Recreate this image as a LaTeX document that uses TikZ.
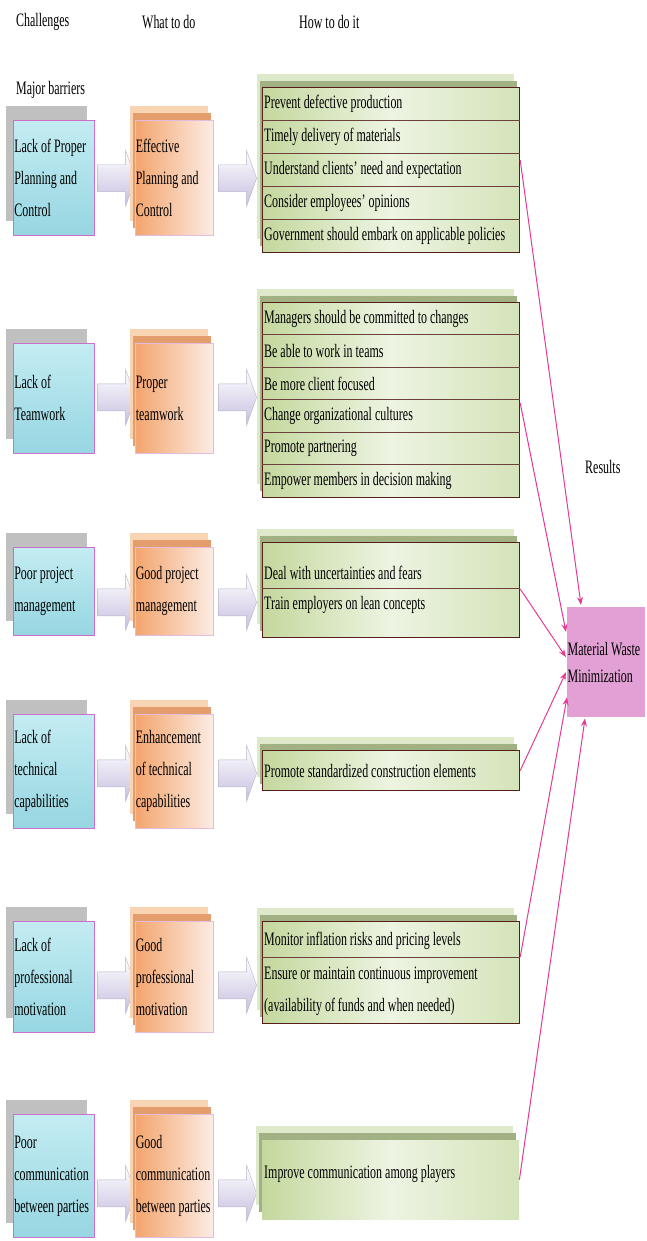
\documentclass[tikz,border=0pt]{standalone}
\usepackage{fontspec}
\setmainfont{Liberation Serif}[FakeStretch=0.63]
\usetikzlibrary{calc,shadows,arrows.meta}

\definecolor{shadowgray}{RGB}{192,192,192}
\definecolor{aqualite}{RGB}{196,236,242}
\definecolor{aquadark}{RGB}{150,214,226}
\definecolor{barrierline}{RGB}{205,110,205}
\definecolor{orangedark}{RGB}{243,165,110}
\definecolor{orangelite}{RGB}{252,236,228}
\definecolor{peach}{RGB}{249,212,178}
\definecolor{orangeband}{RGB}{228,158,110}
\definecolor{todoline}{RGB}{228,188,222}
\definecolor{greenlite}{RGB}{221,233,200}
\definecolor{greenband}{RGB}{162,177,132}
\definecolor{greendark}{RGB}{196,216,158}
\definecolor{greenpale}{RGB}{237,244,226}
\definecolor{howline}{RGB}{85,30,25}
\definecolor{lavender}{RGB}{198,190,224}
\definecolor{arrowline}{RGB}{185,180,200}
\definecolor{resultpink}{RGB}{226,160,212}
\definecolor{linkpink}{RGB}{228,60,150}

\begin{document}
\begin{tikzpicture}[x=1pt,y=-1pt,
  font=\fontsize{19}{32}\selectfont,
  heading/.style={anchor=west,inner sep=0pt},
  barrier/.style={anchor=north west,minimum width=81pt,text width=79pt,
    inner xsep=1pt,align=flush left,top color=aqualite,bottom color=aquadark,
    draw=barrierline,line width=0.6pt,
    general shadow={fill=shadowgray,shadow xshift=-7pt,shadow yshift=14pt}},
  todo/.style={anchor=north west,minimum width=78pt,text width=77pt,
    inner xsep=0.5pt,align=flush left,left color=orangedark,right color=orangelite,
    draw=todoline,line width=0.6pt,
    general shadow={fill=peach,shadow xshift=-5pt,shadow yshift=14pt},
    general shadow={fill=orangeband,shadow xshift=-2pt,shadow yshift=7pt}},
  howplain/.style={anchor=north west,minimum width=257pt,
    left color=greendark,right color=greendark!60!greenpale,middle color=greenpale,
    general shadow={fill=greenlite,shadow xshift=-6pt,shadow yshift=14pt},
    general shadow={fill=greenband,shadow xshift=-3pt,shadow yshift=7pt}},
  howbox/.style={howplain,draw=howline,line width=1.2pt},
  rowline/.style={draw=howline!85,line width=0.8pt},
  item/.style={anchor=west,inner sep=0pt,align=flush left},
  result/.style={anchor=north west,minimum width=78pt,minimum height=110pt,
    text width=77pt,inner xsep=0.5pt,align=flush left,fill=resultpink,
    font=\fontsize{19}{27}\selectfont},
  link/.style={draw=linkpink,line width=1pt,-{Stealth[length=8pt,width=6pt]}},
  barrow/.pic={\shade[top color=white,bottom color=lavender,draw=arrowline,line width=0.4pt]
    (0,-13.5) -- (28,-13.5) -- (28,-28) -- (38,0) -- (28,28) -- (28,13.5) -- (0,13.5) -- cycle;}]

  \fill[white] (0,0) rectangle (646,1241);
  \useasboundingbox (0,0) rectangle (646,1241);

  % column headings
  \node[heading] (hchal) at (16,22) {Challenges};
  \node[heading] (hwhat) at (142,22) {What to do};
  \node[heading] (hhow) at (299,22) {How to do it};
  \node[heading] (hbar) at (16,90) {Major barriers};
  \node[heading] (hres) at (585,467) {Results};

  % planning and control
  \node[barrier,minimum height=115pt] (c1) at (13,120) {Lack of Proper\\Planning and\\Control};
  \pic at ($(c1.east)+(3,0.5)$) {barrow};
  \node[todo,minimum height=115pt] (w1) at (135,120) {Effective\\Planning and\\Control};
  \pic at ($(w1.east)+(5,0.5)$) {barrow};
  \node[howbox,minimum height=165pt] (h1) at (262,87) {};
  \foreach \i in {1,...,4}
    \draw[rowline] ($(h1.north west)+(0,33*\i)$) -- ($(h1.north east)+(0,33*\i)$);
  \foreach \txt [count=\i] in {Prevent defective production,Timely delivery of materials,
      Understand clients' need and expectation,Consider employees' opinions,
      Government should embark on applicable policies}
    \node[item] (h1-\i) at ($(h1.north west)+(2,33*\i-16.5)$) {\txt};

  % teamwork
  \node[barrier,minimum height=110pt] (c2) at (13,343) {Lack of\\Teamwork};
  \pic at ($(c2.east)+(3,-1)$) {barrow};
  \node[todo,minimum height=110pt] (w2) at (135,343) {Proper\\teamwork};
  \pic at ($(w2.east)+(5,-1)$) {barrow};
  \node[howbox,minimum height=195pt] (h2) at (262,302) {};
  \foreach \i in {1,...,5}
    \draw[rowline] ($(h2.north west)+(0,32.5*\i)$) -- ($(h2.north east)+(0,32.5*\i)$);
  \foreach \txt [count=\i] in {Managers should be committed to changes,Be able to work in teams,
      Be more client focused,Change organizational cultures,Promote partnering,
      Empower members in decision making}
    \node[item] (h2-\i) at ($(h2.north west)+(2,32.5*\i-16)$) {\txt};

  % project management
  \node[barrier,minimum height=88pt] (c3) at (13,547) {Poor project\\management};
  \pic at ($(c3.east)+(3,11)$) {barrow};
  \node[todo,minimum height=88pt] (w3) at (135,547) {Good project\\management};
  \pic at ($(w3.east)+(5,11)$) {barrow};
  \node[howbox,minimum height=95pt] (h3) at (262,542) {};
  \draw[rowline] ($(h3.north west)+(0,46)$) -- ($(h3.north east)+(0,46)$);
  \node[item] (h3-1) at ($(h3.north west)+(2,31)$) {Deal with uncertainties and fears};
  \node[item] (h3-2) at ($(h3.north west)+(2,63)$) {Train employers on lean concepts};

  % technical capabilities
  \node[barrier,minimum height=114pt] (c4) at (13,714) {Lack of\\technical\\capabilities};
  \pic at ($(c4.east)+(3,2)$) {barrow};
  \node[todo,minimum height=114pt] (w4) at (135,714) {Enhancement\\of technical\\capabilities};
  \pic at ($(w4.east)+(5,2)$) {barrow};
  \node[howbox,minimum height=40pt] (h4) at (262,750) {};
  \node[item] (h4-1) at ($(h4.west)+(2,0)$) {Promote standardized construction elements};

  % professional motivation
  \node[barrier,minimum height=111pt] (c5) at (13,921) {Lack of\\professional\\motivation};
  \pic at ($(c5.east)+(3,8.5)$) {barrow};
  \node[todo,minimum height=111pt] (w5) at (135,921) {Good\\professional\\motivation};
  \pic at ($(w5.east)+(5,8.5)$) {barrow};
  \node[howbox,minimum height=102pt] (h5) at (262,921) {};
  \draw[rowline] ($(h5.north west)+(0,36)$) -- ($(h5.north east)+(0,36)$);
  \node[item] (h5-1) at ($(h5.north west)+(2,20)$) {Monitor inflation risks and pricing levels};
  \node[item] (h5-2) at ($(h5.north west)+(2,70)$) {Ensure or maintain continuous improvement\\(availability of funds and when needed)};

  % communication
  \node[barrier,minimum height=123pt] (c6) at (13,1114) {Poor\\communication\\between parties};
  \pic at ($(c6.east)+(3,17.5)$) {barrow};
  \node[todo,minimum height=123pt] (w6) at (135,1114) {Good\\communication\\between parties};
  \pic at ($(w6.east)+(5,17.5)$) {barrow};
  \node[howplain,minimum height=79pt] (h6) at (262,1140) {};
  \node[item] (h6-1) at ($(h6.west)+(2,-6)$) {Improve communication among players};

  % result
  \node[result] (res) at (567,607) {Material Waste\\Minimization};

  \draw[link] ($(h1.north east)+(0,73)$) -- ($(res.north west)+(14,-2)$);
  \draw[link] ($(h2.north east)+(0,101)$) -- ($(res.north west)+(-1,25)$);
  \draw[link] ($(h3.north east)+(0,47)$) -- ($(res.west)+(-1,-5)$);
  \draw[link] (h4.east) -- ($(res.west)+(-1,10)$);
  \draw[link] ($(h5.north east)+(0,36)$) -- ($(res.west)+(0,35)$);
  \draw[link] (h6.east) -- ($(res.south west)+(18,1)$);
\end{tikzpicture}
\end{document}
